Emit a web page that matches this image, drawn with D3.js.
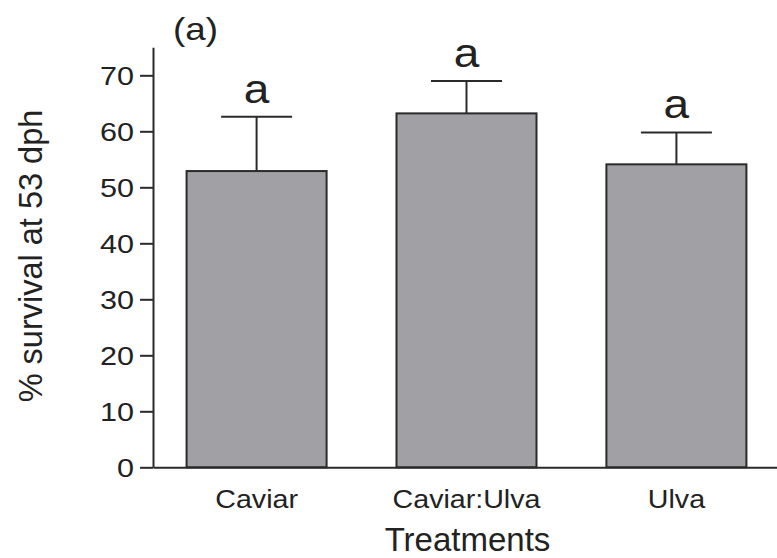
<!DOCTYPE html>
<html>
<head>
<meta charset="utf-8">
<script src="https://cdn.jsdelivr.net/npm/d3@7"></script>
<style>
  body { margin: 0; background: #fff; }
  svg { display: block; }
  text { font-family: Arial, "Liberation Sans", sans-serif; fill: #222; }
</style>
</head>
<body>
<div id="chart"></div>
<script>
// data
var categories = ["Caviar", "Caviar:Ulva", "Ulva"];
var means = [52.9, 63.2, 54.1];
var errors = [9.7, 5.8, 5.7];        // upper error bar (SE)
var letters = ["a", "a", "a"];
var yTicks = [0, 10, 20, 30, 40, 50, 60, 70];

var width = 777, height = 558;
// the original figure is a bit wider than tall, text looks stretched sideways
var stretch = 1.2;

var svg = d3.select("#chart")
  .append("svg")
    .attr("width", width)
    .attr("height", height);

// scales
var x = d3.scaleBand()
  .domain(categories)
  .range([153, 780])
  .paddingInner(0.333)
  .paddingOuter(0.16);

var y = d3.scaleLinear()
  .domain([0, 75])
  .range([467.3, 47.3]);

var rows = categories.map(function(c, i) {
  return {cat: c, mean: means[i], err: errors[i], letter: letters[i]};
});

// helper: text placed at (px,py) and widened horizontally
function wideText(sel, px, py, s) {
  return sel.attr("transform", "translate(" + px + "," + py + ") scale(" + s + ",1)");
}

// bars
svg.selectAll(".bar")
  .data(rows)
  .join("rect")
    .attr("class", "bar")
    .attr("x", function(d) { return x(d.cat); })
    .attr("y", function(d) { return y(d.mean); })
    .attr("width", x.bandwidth())
    .attr("height", function(d) { return y(0) - y(d.mean); })
    .style("fill", "#a1a0a5")
    .style("stroke", "#2a2a2a")
    .style("stroke-width", 2);

// error bars (upper only)
var capHalf = 35.5;
var eb = svg.selectAll(".err")
  .data(rows)
  .join("g")
    .attr("class", "err")
    .style("stroke", "#2a2a2a")
    .style("stroke-width", 2);
eb.append("line")
  .attr("x1", function(d) { return x(d.cat) + x.bandwidth() / 2; })
  .attr("x2", function(d) { return x(d.cat) + x.bandwidth() / 2; })
  .attr("y1", function(d) { return y(d.mean); })
  .attr("y2", function(d) { return y(d.mean + d.err); });
eb.append("line")
  .attr("x1", function(d) { return x(d.cat) + x.bandwidth() / 2 - capHalf; })
  .attr("x2", function(d) { return x(d.cat) + x.bandwidth() / 2 + capHalf; })
  .attr("y1", function(d) { return y(d.mean + d.err); })
  .attr("y2", function(d) { return y(d.mean + d.err); });

// significance letters
svg.selectAll(".letter")
  .data(rows)
  .join("text")
    .attr("class", "letter")
    .attr("text-anchor", "middle")
    .style("font-size", "40px")
    .each(function(d) {
      wideText(d3.select(this), x(d.cat) + x.bandwidth() / 2, y(d.mean + d.err) - 14, 1.15);
    })
    .text(function(d) { return d.letter; });

// y axis
var yAxis = svg.append("g")
  .attr("transform", "translate(153,0)")
  .call(d3.axisLeft(y).tickValues(yTicks).tickSize(13).tickSizeOuter(0));
yAxis.select(".domain").style("stroke", "#2a2a2a").style("stroke-width", 2);
yAxis.selectAll(".tick line").style("stroke", "#2a2a2a").style("stroke-width", 2);
yAxis.selectAll(".tick text")
  .attr("x", null)
  .attr("dy", "0.36em")
  .attr("transform", "translate(-19,0) scale(" + stretch + ",1)")
  .style("font-size", "25.5px")
  .style("font-family", "Arial, 'Liberation Sans', sans-serif")
  .attr("fill", "#222");

// x axis
var xAxis = svg.append("g")
  .attr("transform", "translate(0," + y(0) + ")")
  .call(d3.axisBottom(x).tickSize(0).tickSizeOuter(0).tickPadding(0));
xAxis.select(".domain").style("stroke", "#2a2a2a").style("stroke-width", 2);
xAxis.selectAll(".tick text")
  .attr("y", null)
  .attr("dy", null)
  .attr("transform", "translate(0,41) scale(1.08,1)")
  .style("font-size", "26.5px")
  .style("font-family", "Arial, 'Liberation Sans', sans-serif")
  .attr("fill", "#222");

// axis titles
svg.append("text")
  .attr("x", 467.5)
  .attr("y", 551)
  .attr("text-anchor", "middle")
  .style("font-size", "33px")
  .text("Treatments");

svg.append("text")
  .attr("transform", "translate(42,256) rotate(-90)")
  .attr("text-anchor", "middle")
  .style("font-size", "32.5px")
  .text("% survival at 53 dph");

// panel label
wideText(svg.append("text"), 173, 40, 1.15)
  .style("font-size", "32px")
  .text("(a)");
</script>
</body>
</html>
